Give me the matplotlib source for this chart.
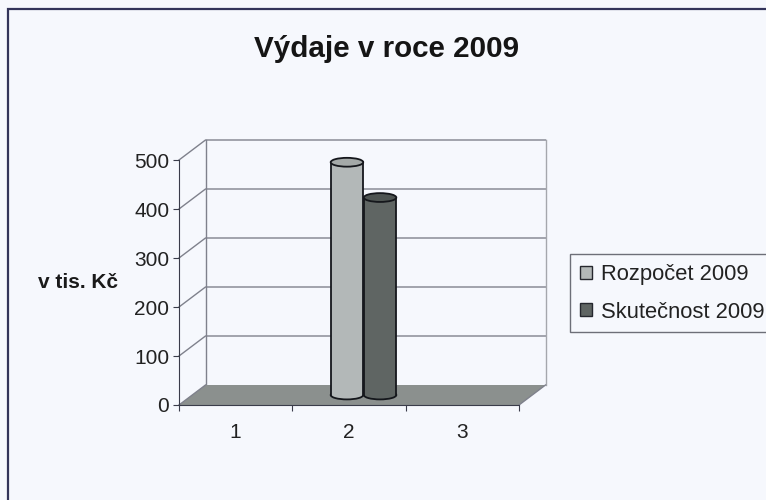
import matplotlib
matplotlib.use("Agg")
import matplotlib.pyplot as plt
from matplotlib.patches import Ellipse, Polygon, Rectangle

plt.rcParams['font.family'] = ['Liberation Sans', 'DejaVu Sans']

title = "Výdaje v roce 2009"
y_label = "v tis. Kč"
categories = ["1", "2", "3"]
series_names = ["Rozpočet 2009", "Skutečnost 2009"]
rozpocet = [0, 475, 0]
skutecnost = [0, 403, 0]
y_ticks = [0, 100, 200, 300, 400, 500]

W, H = 766, 500
BG = "#f6f8fd"
fig = plt.figure(figsize=(W / 100, H / 100), dpi=100, facecolor=BG)

# front plane of the 3D box: x 179..519 px, y 160..405 px
ax = fig.add_axes([179 / W, 1 - 405 / H, 340 / W, 245 / H])
ax.set_xlim(0, 3)
ax.set_ylim(0, 500)
ax.patch.set_visible(False)
for s in ax.spines.values():
    s.set_visible(False)

dx = 26.5 / 340 * 3      # depth in data units
dy = 20 / 245 * 500
wall = "#7f818c"

# floor
ax.add_patch(Polygon([(0, 0), (3, 0), (3 + dx, dy), (dx, dy)], closed=True,
                     fc="#8b908e", ec="none", zorder=1, clip_on=False))
# gridlines on back wall and side wall
for v in y_ticks[1:]:
    ax.plot([0, dx, 3 + dx], [v, v + dy, v + dy], color=wall, lw=1.0, zorder=0.5, clip_on=False)
ax.plot([dx, dx], [0 + dy, 500 + dy], color=wall, lw=1.0, zorder=0.5, clip_on=False)
ax.plot([3 + dx, 3 + dx], [dy, 500 + dy], color="#a5a7ad", lw=1.0, zorder=0.5, clip_on=False)
ax.plot([0, dx], [0, dy], color=wall, lw=1.0, zorder=1.2, clip_on=False)
ax.plot([3, 3 + dx], [0, dy], color=wall, lw=1.0, zorder=1.2, clip_on=False)

# cylinders
idx = range(len(categories))
bw = 0.287
base = dy / 2
colors = ["#b3b8b8", "#5f6563"]
tops = ["#a4a9a8", "#4e5452"]
offs = [1.482 - 0.5, 1.774 - 0.5]
for vals, name, c, tc, k in zip([rozpocet, skutecnost], series_names, colors, tops, [0, 1]):
    xs = [i + offs[k] - 1 + 0.5 for i in idx]
    z = 3 + k
    for x, v in zip(xs, vals):
        if v <= 0:
            continue
        ax.add_patch(Ellipse((x, base), bw, 18, fc=c, ec="#15171c", lw=1.3, zorder=z, clip_on=False))
        ax.add_patch(Ellipse((x, base + v), bw, 18, fc=tc, ec="#15171c", lw=1.3, zorder=z + 0.2, clip_on=False))
    ax.bar(xs, vals, bw, bottom=base, color=c, edgecolor="none", zorder=z + 0.1, label=name)
    for x, v in zip(xs, vals):
        if v > 0:
            ax.plot([x - bw / 2, x - bw / 2], [base, base + v], color="#15171c", lw=1.3, zorder=z + 0.15)
            ax.plot([x + bw / 2, x + bw / 2], [base, base + v], color="#15171c", lw=1.3, zorder=z + 0.15)

# axes
ax.spines['left'].set_visible(True)
ax.spines['left'].set_color("#3a3c4a")
ax.spines['bottom'].set_visible(True)
ax.spines['bottom'].set_color("#3a3c4a")
ax.spines['bottom'].set_zorder(6)
ax.set_yticks(y_ticks)
ax.set_xticks([0, 1, 2, 3])
ax.set_xticklabels([])
ax.set_xticks([0.5, 1.5, 2.5], labels=categories, minor=True)
ax.tick_params(axis='x', which='minor', length=0, pad=13, labelsize=15, colors="#222222")
ax.tick_params(axis='x', which='major', length=4, color="#3a3c4a")
ax.tick_params(axis='y', length=4, pad=3, labelsize=15, color="#3a3c4a", labelcolor="#222222")

ax.set_ylabel(y_label, rotation=0, fontsize=15, fontweight='bold', color="#1a1a1a",
              labelpad=0, va='center', ha='center')
ax.yaxis.set_label_coords(-101 / 340, 0.5)

fig.text(387 / W, 1 - 49 / H, title, fontsize=21.3, fontweight='bold', color="#151515",
         ha='center', va='center')

leg = ax.legend(loc='upper left', bbox_to_anchor=(570 / W, 1 - 254 / H),
                bbox_transform=fig.transFigure, frameon=True, fancybox=False, framealpha=1,
                facecolor=BG, edgecolor="#6d6f78", fontsize=15.8, handlelength=0.55,
                handleheight=0.55, handletextpad=0.4, labelspacing=0.76,
                borderpad=0.45, borderaxespad=0)
leg.get_frame().set_linewidth(1.0)
for h in leg.legend_handles:
    h.set_edgecolor("#25272e")
    h.set_linewidth(1.0)
for t in leg.get_texts():
    t.set_color("#222222")

# chart frame
fig.add_artist(Rectangle((8 / W, -0.02), 2, 1 - 9 / H + 0.02, transform=fig.transFigure,
                         fc="none", ec="#33345a", lw=1.6))

fig.savefig("out.png", dpi=100, facecolor=BG)
